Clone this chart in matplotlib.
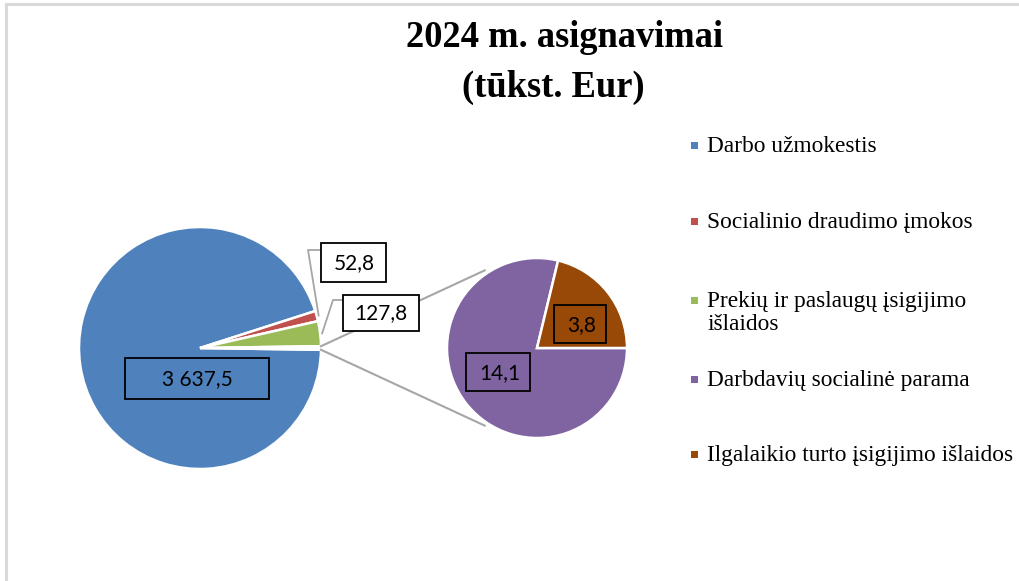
import numpy as np
import matplotlib
matplotlib.use("Agg")
import matplotlib.pyplot as plt
from matplotlib.lines import Line2D
from matplotlib.patches import Rectangle

# ---- data ----
title_lines = ["2024 m. asignavimai", "(tūkst. Eur)"]
main_labels = ["Darbo užmokestis", "Socialinio draudimo įmokos",
               "Prekių ir paslaugų įsigijimo\nišlaidos"]
main_values = [3637.5, 52.8, 127.8]
sub_labels = ["Darbdavių socialinė parama", "Ilgalaikio turto įsigijimo išlaidos"]
sub_values = [14.1, 3.8]
value_texts_main = ["3 637,5", "52,8", "127,8"]
value_texts_sub = ["14,1", "3,8"]

main_colors = ["#4F81BD", "#C0504D", "#9BBB59"]
sub_colors = ["#8064A2", "#984807"]

W, H = 1019, 581
fig = plt.figure(figsize=(W / 100, H / 100), dpi=100)
ax = fig.add_axes([0, 0, 1, 1])

def Y(ypx):
    return H - ypx

# ---- main pie ----
other = sum(sub_values)
vals = main_values + [other]
total = sum(vals)
other_deg = other / total * 360
c1 = (200, Y(348)); r1 = 121
wedges1, _ = ax.pie(vals, colors=main_colors + ["white"], startangle=-other_deg / 2,
                    counterclock=False, center=c1, radius=r1, frame=True,
                    wedgeprops=dict(edgecolor="white", linewidth=1.8))

# ---- secondary pie ----
c2 = (537, Y(348)); r2 = 90
wedges2, _ = ax.pie(sub_values, colors=sub_colors, startangle=0, counterclock=False,
                    center=c2, radius=r2, frame=True,
                    wedgeprops=dict(edgecolor="white", linewidth=1.8))
ax.set_xlim(0, W)
ax.set_ylim(0, H)
ax.set_aspect("auto")
ax.axis("off")

# connector lines
a = np.deg2rad(other_deg / 2)
conn_ang = np.deg2rad(124)
for s in (1, -1):
    p1 = (c1[0] + r1 * np.cos(a), c1[1] + s * r1 * np.sin(a))
    p2 = (c2[0] + r2 * 1.04 * np.cos(conn_ang), c2[1] + s * r2 * 1.04 * np.sin(conn_ang))
    ax.plot([p1[0], p2[0]], [p1[1], p2[1]], color="#A6A6A6", lw=1.5, zorder=1)

# ---- data labels ----
lab_font = dict(family="Lato", fontsize=15, color="black", ha="center", va="center", zorder=6)

def label_box(x0, y0, x1, y1, text, tx, ty, fill):
    ax.add_patch(Rectangle((x0, Y(y1)), x1 - x0, y1 - y0, fc="white" if fill else "none",
                           ec="black", lw=1.3, zorder=5))
    ax.text(tx, Y(ty), text, **lab_font)

def mid_point(w, r):
    th = np.deg2rad((w.theta1 + w.theta2) / 2)
    return (w.center[0] + r * np.cos(th), w.center[1] + r * np.sin(th))

# Darbo (inside)
label_box(125, 358, 269, 399, value_texts_main[0], 197, 379, False)
# Socialinio (outside with leader)
mp = mid_point(wedges1[1], r1 + 2)
ax.plot([mp[0], 308, 321], [mp[1], Y(250), Y(250)], color="#A6A6A6", lw=1.3, zorder=4)
label_box(321, 243, 386, 282, value_texts_main[1], 354, 263, True)
# Prekiu (outside with leader)
mp = mid_point(wedges1[2], r1 + 2)
ax.plot([mp[0], 333, 343], [mp[1], Y(300), Y(300)], color="#A6A6A6", lw=1.3, zorder=4)
label_box(343, 295, 419, 331, value_texts_main[2], 381, 313, True)

# sub pie labels
label_box(466, 353, 530, 391, value_texts_sub[0], 500, 373, False)
label_box(554, 305, 606, 343, value_texts_sub[1], 582, 325, False)

# ---- title ----
for txt, xc, yb in zip(title_lines, [565, 553], [47, 97]):
    ax.text(xc, Y(yb), txt, family="Liberation Serif", fontsize=26.3, fontweight="bold",
            ha="center", va="baseline")

# ---- legend (manual) ----
leg_labels = main_labels + sub_labels
leg_colors = main_colors + sub_colors
leg_base = [152, 228, 307, 386, 461]   # baseline of first line (px from top)
line_pitch = 23
for lab, col, yb in zip(leg_labels, leg_colors, leg_base):
    ax.add_patch(Rectangle((691, Y(yb - 3.5)), 7, 7, fc=col, ec="none", zorder=5))
    for i, line in enumerate(lab.split("\n")):
        ax.text(707, Y(yb + i * line_pitch), line, family="Liberation Serif", fontsize=16.8,
                ha="left", va="baseline")

# ---- border ----
ax.add_line(Line2D([6, 6], [0, Y(4)], color="#D9D9D9", lw=2.2))
ax.add_line(Line2D([6, W], [Y(4), Y(4)], color="#D9D9D9", lw=2.2))

fig.savefig("out.png", dpi=100)
